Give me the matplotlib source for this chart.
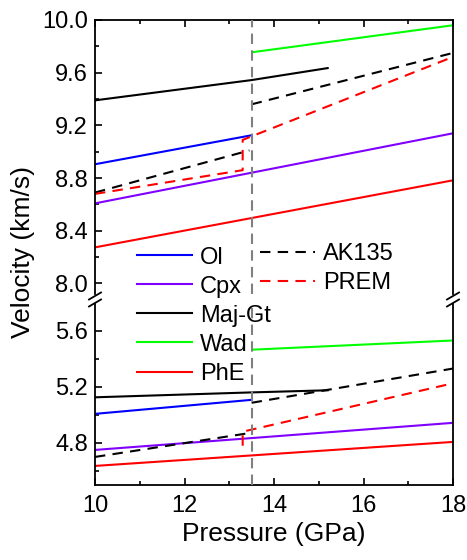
import matplotlib
matplotlib.use('Agg')
import matplotlib.pyplot as plt
from matplotlib.lines import Line2D
from matplotlib.ticker import MultipleLocator

plt.rcParams['font.family'] = ['Liberation Sans', 'DejaVu Sans']

# Pressure (GPa) and velocities (km/s): vp = top panel, vs = bottom panel
p_ol = [10, 13.5]
vp_ol = [8.905, 9.125]
vs_ol = [5.007, 5.107]

p_cpx = [10, 18]
vp_cpx = [8.608, 9.14]
vs_cpx = [4.75, 4.943]

p_maj = [10, 13.5, 15.2]
vp_maj = [9.39, 9.544, 9.635]
vs_maj = [5.125, 5.16, 5.175]

p_wad = [13.55, 18]
vp_wad = [9.757, 9.96]
vs_wad = [5.465, 5.53]

p_phe = [10, 18]
vp_phe = [8.274, 8.783]
vs_phe = [4.636, 4.807]

# reference models, split at the 410 discontinuity
p_ak_lo = [10, 13.45]
vp_ak_lo = [8.69, 9.01]
vs_ak_lo = [4.70, 4.87]
p_ak_hi = [13.5, 18]
vp_ak_hi = [9.36, 9.75]
vs_ak_hi = [5.086, 5.33]

p_prem_top = [10, 13.3, 13.3, 18]
vp_prem = [8.68, 8.86, 9.09, 9.72]
p_prem_bot = [13.3, 13.3, 18]
vs_prem = [4.78, 4.88, 5.225]

p_410 = 13.5

W, H = 467, 560
fig = plt.figure(figsize=(W / 100, H / 100), dpi=100)

def fx(px):
    return px / W

def fy(py):
    return 1 - py / H

left, right = fx(95), fx(453)
ax_top = fig.add_axes([left, fy(294), right - left, fy(20) - fy(294)])
ax_bot = fig.add_axes([left, fy(485), right - left, fy(304) - fy(485)])

dash = (5, 3.5)
lw = 1.5

for ax, k in ((ax_top, 'p'), (ax_bot, 's')):
    sel = (lambda a, b: a) if k == 'p' else (lambda a, b: b)
    ax.plot(p_ol, sel(vp_ol, vs_ol), color='#0000ff', lw=lw)
    ax.plot(p_cpx, sel(vp_cpx, vs_cpx), color='#8000ff', lw=lw)
    ax.plot(p_maj, sel(vp_maj, vs_maj), color='black', lw=lw)
    ax.plot(p_wad, sel(vp_wad, vs_wad), color='#00ff00', lw=lw)
    ax.plot(p_phe, sel(vp_phe, vs_phe), color='#ff0000', lw=lw)
    ax.plot(p_ak_lo, sel(vp_ak_lo, vs_ak_lo), color='black', lw=lw, dashes=dash)
    ax.plot(p_ak_hi, sel(vp_ak_hi, vs_ak_hi), color='black', lw=lw, dashes=dash)
    if k == 'p':
        ax.plot(p_prem_top, vp_prem, color='#ff0000', lw=lw, dashes=dash)
    else:
        ax.plot(p_prem_bot, vs_prem, color='#ff0000', lw=lw, dashes=dash)
    ax.axvline(p_410, color='#808080', lw=1.5, dashes=(5, 3), zorder=5)

    ax.set_xlim(10, 18)
    ax.xaxis.set_major_locator(MultipleLocator(2))
    ax.xaxis.set_minor_locator(MultipleLocator(1))
    ax.yaxis.set_major_locator(MultipleLocator(0.4))
    ax.yaxis.set_minor_locator(MultipleLocator(0.2))
    ax.tick_params(which='both', direction='in', labelsize=17, width=1.2)
    ax.tick_params(which='major', length=5)
    ax.tick_params(which='minor', length=3)
    ax.tick_params(axis='y', pad=5)
    ax.tick_params(axis='x', pad=7)
    for s in ax.spines.values():
        s.set_linewidth(1.3)

ax_top.set_ylim(7.92, 10.0)
ax_top.yaxis.set_major_formatter(plt.FormatStrFormatter('%.1f'))
ax_top.spines['bottom'].set_visible(False)
ax_top.tick_params(axis='x', which='both', bottom=False, labelbottom=False, top=True)

ax_bot.set_ylim(4.5, 5.79)
ax_bot.yaxis.set_major_formatter(plt.FormatStrFormatter('%.1f'))
ax_bot.spines['top'].set_visible(False)

# axis break marks on both sides
for xb in (95, 453):
    for yb in (296, 303):
        fig.add_artist(Line2D([fx(xb - 6), fx(xb + 6)], [fy(yb + 3.5), fy(yb - 3.5)],
                              color='black', lw=1.3))

ax_bot.set_xlabel('Pressure (GPa)', fontsize=19, labelpad=4)
fig.text(fx(23), fy(252), 'Velocity (km/s)', fontsize=19, rotation=90,
         ha='center', va='center')

h1 = [Line2D([], [], color=c, lw=lw) for c in ('#0000ff', '#8000ff', 'black', '#00ff00', '#ff0000')]
l1 = ['Ol', 'Cpx', 'Maj-Gt', 'Wad', 'PhE']
h2 = [Line2D([], [], color=c, lw=lw, dashes=dash) for c in ('black', '#ff0000')]
l2 = ['AK135', 'PREM']

leg_kw = dict(frameon=False, fontsize=17, handlelength=2.33, handletextpad=0.34,
              labelspacing=0.30, borderpad=0, borderaxespad=0, loc='upper left')
fig.legend(h1, l1, bbox_to_anchor=(fx(137), fy(246.5)), **leg_kw)
fig.legend(h2, l2, bbox_to_anchor=(fx(260), fy(243)), **leg_kw)

fig.savefig('out.png', dpi=100)
